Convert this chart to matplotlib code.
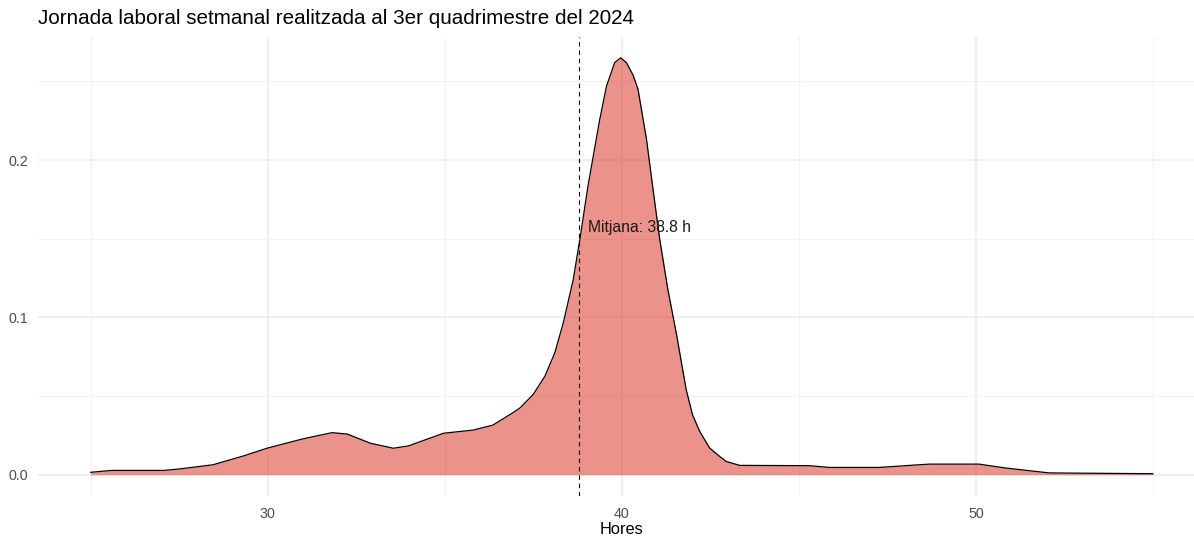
import matplotlib
matplotlib.use("Agg")
import matplotlib.pyplot as plt

# Data
hores = [25.0, 25.6, 27.06, 27.5, 28.46, 29.33, 29.98, 30.95, 31.5, 31.82, 32.25,
         32.9, 33.55, 33.98, 34.96, 35.82, 36.36, 36.9, 37.13, 37.5, 37.83,
         38.11, 38.35, 38.63, 38.82, 39.05, 39.38, 39.57, 39.8, 39.97, 40.13, 40.32, 40.46,
         40.70, 40.88, 41.07, 41.3, 41.54, 41.82, 42.0, 42.2, 42.48, 42.76, 42.95,
         43.33, 45.3, 45.86, 47.27, 48.68, 50.09, 50.85, 52.07, 55.0]
densitat = [0.0015, 0.0027, 0.0027, 0.0036, 0.0063, 0.012, 0.0168, 0.0225, 0.0252, 0.0267, 0.0258,
            0.020, 0.0168, 0.0183, 0.0263, 0.0284, 0.0315, 0.039, 0.0425, 0.051, 0.0626,
            0.0775, 0.0966, 0.124, 0.150, 0.184, 0.226, 0.247, 0.262, 0.265, 0.262, 0.254, 0.245,
            0.213, 0.182, 0.150, 0.118, 0.090, 0.054, 0.038, 0.0276, 0.017, 0.0117, 0.0084,
            0.0059, 0.0057, 0.0046, 0.0046, 0.0067, 0.0067, 0.0042, 0.0011, 0.0006]
mitjana = 38.8
titol = "Jornada laboral setmanal realitzada al 3er quadrimestre del 2024"
etiqueta = f"Mitjana: {mitjana} h"
xlabel = "Hores"

plt.rcParams['font.family'] = ['Liberation Sans', 'DejaVu Sans']

W, H = 1194, 537
fig = plt.figure(figsize=(W / 100, H / 100), dpi=100)
left_px, right_px, top_px, bot_px = 37.5, 1206, 37, 495.5
ax = fig.add_axes([left_px / W, 1 - bot_px / H, (right_px - left_px) / W, (bot_px - top_px) / H])

ax.set_xlim(23.5, 56.5)
ax.set_ylim(-0.01325, 0.27825)

ax.set_xticks([30, 40, 50])
ax.set_yticks([0.0, 0.1, 0.2])
ax.set_yticklabels(["0.0", "0.1", "0.2"])
ax.set_xticks([25, 35, 45, 55], minor=True)
ax.set_yticks([0.05, 0.15, 0.25], minor=True)

ax.grid(which='major', color='#EBEBEB', linewidth=1.1)
ax.grid(which='minor', color='#F2F2F2', linewidth=0.8)
ax.set_axisbelow(True)
for s in ax.spines.values():
    s.set_visible(False)
ax.tick_params(which='both', length=0)
ax.tick_params(axis='y', pad=7, labelsize=10.3, labelcolor='#4D4D4D')
ax.tick_params(axis='x', pad=8, labelsize=10.3, labelcolor='#4D4D4D')

ax.fill_between(hores, 0, densitat, color='#DF493C', alpha=0.6, linewidth=0, zorder=2)
ax.plot(hores, densitat, color='black', linewidth=0.9, zorder=3)
ax.axvline(mitjana, color='black', linestyle=(0, (4, 3.5)), linewidth=0.8, zorder=4)
ax.text(mitjana + 0.25, 0.157, etiqueta, fontsize=11.3, color='#1A1A1A',
        ha='left', va='center', zorder=5)

fig.text((left_px + right_px) / 2 / W, 1 - 529 / H, xlabel, fontsize=11.8,
         color='black', ha='center', va='center')
fig.text(left_px / W, 1 - 18 / H, titol, fontsize=14.9, color='black', ha='left', va='center')

fig.savefig("out.png", dpi=100)
